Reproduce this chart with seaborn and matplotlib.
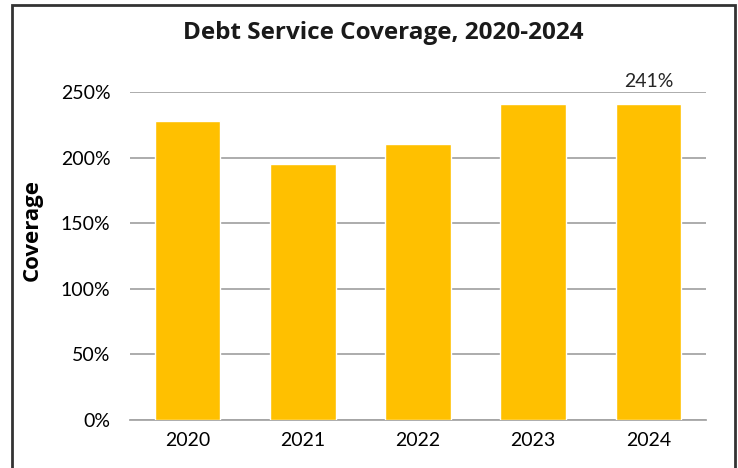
import matplotlib
matplotlib.use("Agg")
import matplotlib.pyplot as plt
import seaborn as sns
import pandas as pd
from matplotlib.patches import Rectangle
from matplotlib.ticker import FuncFormatter

years = ["2020", "2021", "2022", "2023", "2024"]
coverage = [228, 195, 210, 241, 241]
yticks = [0, 50, 100, 150, 200, 250]
label_year = "2024"
label_text = "241%"

df = pd.DataFrame({"Year": years, "Coverage": coverage})

sns.set_theme(style="white")
plt.rcParams['font.family'] = ['Lato', 'DejaVu Sans']

fig = plt.figure(figsize=(7.38, 4.68), dpi=100)
ax = fig.add_axes([130/738, 1 - 420/468, 576/738, 328/468])

sns.barplot(data=df, x="Year", y="Coverage", color="#FFC000", saturation=1,
            width=0.57, ax=ax, zorder=3)

ax.set_ylim(0, 250)
ax.set_yticks(yticks)
ax.yaxis.set_major_formatter(FuncFormatter(lambda v, p: f"{int(v)}%"))
ax.grid(axis="y", color="#A6A6A6", linewidth=1.3, zorder=0)
ax.set_axisbelow(True)
for s in ["top", "right", "left"]:
    ax.spines[s].set_visible(False)
ax.spines["bottom"].set_color("#A6A6A6")
ax.spines["bottom"].set_linewidth(1.3)
ax.tick_params(axis="both", length=0, labelsize=14, colors="black")
ax.tick_params(axis="x", pad=9)
ax.tick_params(axis="y", pad=14)
ax.set_xlabel("")
ax.set_ylabel("Coverage", fontsize=16, fontweight="bold",
              family=["Open Sans", "DejaVu Sans"], color="black")
ax.yaxis.set_label_coords(-(130 - 32) / 576, (420 - 230) / 328)
ax.yaxis.label.set_va("center")

idx = years.index(label_year)
ax.annotate(label_text, xy=(idx, coverage[idx]), xytext=(0, 10),
            textcoords="offset points", ha="center", va="bottom",
            fontsize=14, annotation_clip=False)

fig.text(383/738, 1 - 33/468, "Debt Service Coverage, 2020-2024",
         ha="center", va="center", fontsize=17.5, fontweight="bold", color="#1a1a1a",
         family=["Open Sans", "DejaVu Sans"])

fig.patches.append(Rectangle((12/738, -0.1), (735 - 12)/738, 0.1 + (468 - 5)/468,
                             transform=fig.transFigure, fill=False,
                             edgecolor="#333333", linewidth=2))

fig.savefig("out.png", dpi=100)
